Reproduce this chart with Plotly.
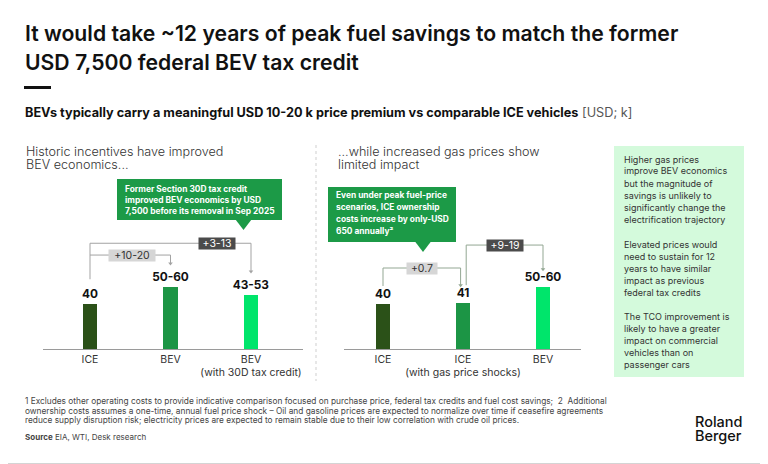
import plotly.graph_objects as go

# the page adds an 8px body margin, so the figure is drawn 8px smaller
OFF = 8
W, H = 768 - OFF, 464 - OFF
FONT = "Inter"

# ---- data ----
left_cats = ["ICE", "BEV", "BEV<br>(with 30D tax credit)"]
left_vals = [40, 55, 48]
left_labels = ["40", "50-60", "43-53"]

right_cats = ["ICE", "ICE<br>(with gas price shocks)", "BEV"]
right_vals = [40, 40.7, 55]
right_labels = ["40", "41", "50-60"]

left_deltas = ["+3-13", "+10-20"]
right_deltas = ["+0.7", "+9-19"]

bar_colors = ["#2b5118", "#1c9545", "#00e56b"]

side_paras = [
    ["Higher gas prices", "improve BEV economics", "but the magnitude of",
     "savings is unlikely to", "significantly change the", "electrification trajectory"],
    ["Elevated prices would", "need to sustain for 12", "years to have similar",
     "impact as previous", "federal tax credits"],
    ["The TCO improvement is", "likely to have a greater", "impact on commercial",
     "vehicles than on", "passenger cars"],
]

footnotes = [
    "1 Excludes other operating costs to provide indicative comparison focused on purchase price, federal tax credits and fuel cost savings;  2  Additional",
    "ownership costs assumes a one-time, annual fuel price shock – Oil and gasoline prices are expected to normalize over time if ceasefire agreements",
    "reduce supply disruption risk; electricity prices are expected to remain stable due to their low correlation with crude oil prices.",
]


def X(p):
    return (p - OFF) / W


def Y(p):
    return 1 - (p - OFF) / H


fig = go.Figure()

# bars
for vals, labels, xa, ya in [
    (left_vals, left_labels, "x", "y"),
    (right_vals, right_labels, "x2", "y2"),
]:
    fig.add_trace(go.Bar(
        x=list(range(len(vals))), y=vals, width=0.175,
        marker=dict(color=bar_colors, line=dict(width=0)),
        text=labels, textposition="outside", cliponaxis=False, constraintext="none",
        textfont=dict(size=11.8, color="#111", family=FONT, weight=700),
        xaxis=xa, yaxis=ya, showlegend=False, hoverinfo="skip",
    ))


def bracket(xa, ya, xs, ys, color):
    fig.add_trace(go.Scatter(
        x=xs, y=ys, mode="lines", line=dict(color=color, width=1),
        xaxis=xa, yaxis=ya, showlegend=False, hoverinfo="skip", cliponaxis=False))
    fig.add_trace(go.Scatter(
        x=[xs[-1]], y=[ys[-1]], mode="markers",
        marker=dict(symbol="triangle-down", size=4, color=color),
        xaxis=xa, yaxis=ya, showlegend=False, hoverinfo="skip", cliponaxis=False))


def delta_box(xa, ya, x, y, text, dark, w):
    fig.add_annotation(
        x=x, y=y, xref=xa, yref=ya, text=text, showarrow=False,
        font=dict(size=10.5, family=FONT, color="white" if dark else "#333"),
        bgcolor="#4b4b4b" if dark else "#d6d6d6", width=w, height=11, borderpad=0)


# left brackets
gl, gr = 21, 16
lvA, lvB = 94, 83.5
cl = "#a3a3a3"
bracket("x", "y", [0, 0, 2, 2], [left_vals[0] + gl + 1, lvA, lvA, left_vals[2] + gl], cl)
bracket("x", "y", [0, 1, 1], [lvB, lvB, left_vals[1] + gl], cl)
delta_box("x", "y", 1.58, lvA, left_deltas[0], True, 36)
delta_box("x", "y", 0.52, lvB, left_deltas[1], False, 46)

# right brackets
rvC, rvD = 72, 92.4
cr = "#93a793"
bracket("x2", "y2", [0, 0, 0.97, 0.97], [right_vals[0] + gr, rvC, rvC, right_vals[1] + gr], cr)
bracket("x2", "y2", [1.04, 1.04, 2, 2], [right_vals[1] + gr, rvD, rvD, right_vals[2] + gr], cr)
delta_box("x2", "y2", 0.49, rvC, right_deltas[0], False, 30)
delta_box("x2", "y2", 1.53, rvD, right_deltas[1], True, 36)


def lines_at(lines, x, y0, dy, size, color, weight=400, xanchor="left"):
    for i, t in enumerate(lines):
        fig.add_annotation(
            x=X(x), y=Y(y0 + i * dy), xref="paper", yref="paper", text=t,
            showarrow=False, xanchor=xanchor, yanchor="middle",
            font=dict(size=size, color=color, family=FONT, weight=weight))


# titles
lines_at(["It would take ~12 years of peak fuel savings to match the former",
          "USD 7,500 federal BEV tax credit"], 23, 33, 29, 21.2, "#111", 600)
lines_at(["<b>BEVs typically carry a meaningful USD 10-20 k price premium vs comparable ICE vehicles</b>"
          " <span style='color:#555'>[USD; k]</span>"], 23, 112, 0, 12.7, "#111")
lines_at(["Historic incentives have improved", "BEV economics..."], 24, 151, 13.5, 12.6, "#333", 300)
lines_at(["...while increased gas prices show", "limited impact"], 336, 151, 13.5, 12.6, "#333", 300)

shapes = []
# frame (right and bottom edges; top/left fall in the page margin)
shapes.append(dict(type="line", xref="paper", yref="paper", x0=X(767.5), x1=X(767.5),
                   y0=Y(8), y1=Y(463.5), line=dict(color="#d4d4d4", width=1)))
shapes.append(dict(type="line", xref="paper", yref="paper", x0=X(8), x1=X(767.5),
                   y0=Y(463.5), y1=Y(463.5), line=dict(color="#d4d4d4", width=1)))
# black rule
shapes.append(dict(type="rect", xref="paper", yref="paper", x0=X(24), x1=X(51),
                   y0=Y(86), y1=Y(89), fillcolor="#111", line=dict(width=0)))
# divider
shapes.append(dict(type="line", xref="paper", yref="paper", x0=X(316), x1=X(316),
                   y0=Y(145), y1=Y(381), line=dict(color="#cfcfcf", width=1, dash="dot")))
# callout boxes
green = "#1c9a47"
for (x0, x1, y0, y1, tx) in [(117, 282, 179, 220, 243.5), (328, 456, 187, 242, 423)]:
    shapes.append(dict(type="rect", xref="paper", yref="paper", x0=X(x0), x1=X(x1),
                       y0=Y(y0), y1=Y(y1), fillcolor=green, line=dict(width=0)))
    shapes.append(dict(type="path", xref="paper", yref="paper",
                       path=f"M {X(tx - 8)} {Y(y1 - 0.5)} L {X(tx + 8)} {Y(y1 - 0.5)} L {X(tx)} {Y(y1 + 10)} Z",
                       fillcolor=green, line=dict(width=0)))
# side box
shapes.append(dict(type="rect", xref="paper", yref="paper", x0=X(614), x1=X(744),
                   y0=Y(146), y1=Y(377), fillcolor="#d4fadc", line=dict(width=0), layer="below"))

lines_at(["Former Section 30D tax credit", "improved BEV economics by USD",
          "7,500 before its removal in Sep 2025"], 123, 189, 11, 8.4, "white", 700)
lines_at(["Even under peak fuel-price", "scenarios, ICE ownership",
          "costs increase by only-USD", "650 annually²"], 334, 195, 12, 8.4, "white", 700)

y = 159
for para in side_paras:
    lines_at(para, 622, y, 12, 9, "#333")
    y += 12 * len(para) + 12 + (1 if len(para) == 6 else 0)

lines_at(footnotes, 23, 401, 9.5, 8.3, "#444")
lines_at(["<b>Source</b> EIA, WTI, Desk research"], 23, 437, 0, 8, "#444")
lines_at(["Roland", "Berger"], 693, 421, 15, 14.5, "#111", 500)

axis_common = dict(showgrid=False, zeroline=False, showline=True, linecolor="#9a9a9a",
                   linewidth=1, ticks="", tickfont=dict(size=10.5, color="#333", family=FONT),
                   tickmode="array", tickvals=[0, 1, 2], fixedrange=True)
ydom = [Y(349), Y(349 - 110 * 1.125)]
yax = dict(range=[0, 110], domain=ydom, visible=False, fixedrange=True)

fig.update_layout(
    width=W, height=H, margin=dict(l=0, r=0, t=0, b=0),
    paper_bgcolor="white", plot_bgcolor="rgba(0,0,0,0)",
    xaxis=dict(axis_common, domain=[X(43), X(303)], range=[-0.584, 2.646],
               ticktext=left_cats, anchor="y"),
    yaxis=dict(yax, anchor="x"),
    xaxis2=dict(axis_common, domain=[X(344), X(581)], range=[-0.4875, 2.475],
                ticktext=right_cats, anchor="y2"),
    yaxis2=dict(yax, anchor="x2"),
    shapes=shapes, bargap=0,
)

fig.write_html("out.html")
